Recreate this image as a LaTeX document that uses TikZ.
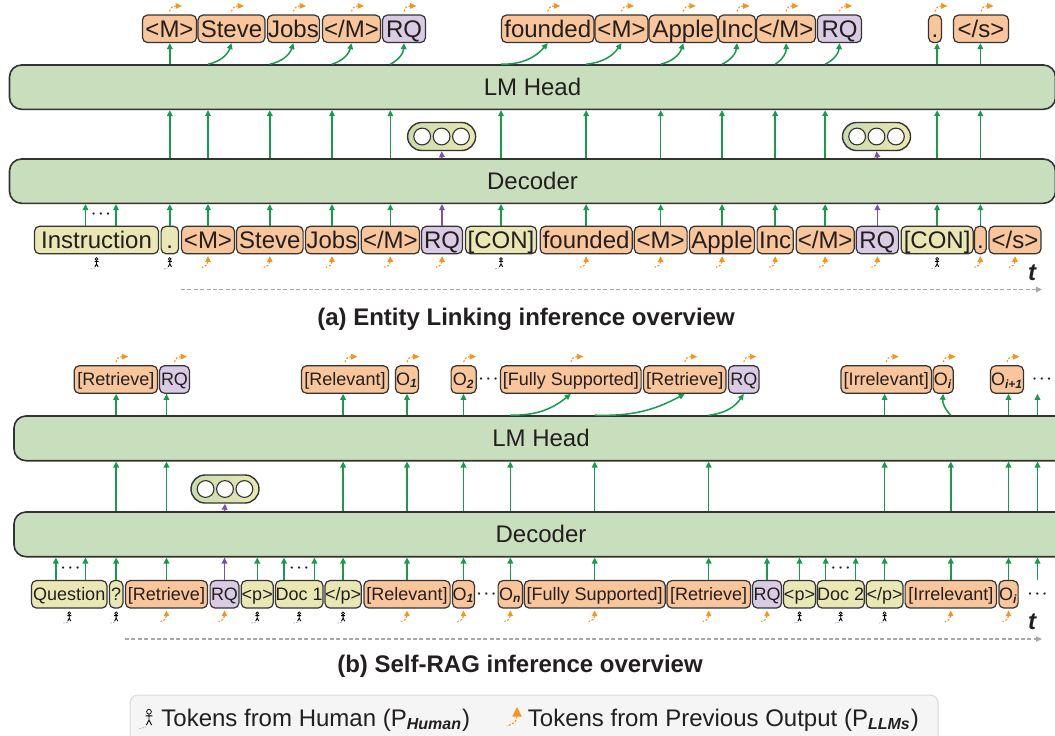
\documentclass[tikz,border=0pt]{standalone}
\usepackage{fontspec}
\setmainfont{Liberation Sans}
\usetikzlibrary{arrows.meta}

\definecolor{tokorange}{HTML}{F9C59A}
\definecolor{tokpurple}{HTML}{D9CBE4}
\definecolor{tokyellow}{HTML}{E9E8B4}
\definecolor{blockgreen}{HTML}{C8DEBC}
\definecolor{edgegray}{HTML}{333333}
\definecolor{arrowgreen}{HTML}{169B4F}
\definecolor{arrowpurple}{HTML}{7B52AB}
\definecolor{iconorange}{HTML}{F7941D}
\definecolor{axisgray}{HTML}{A8A8A8}
\definecolor{textdark}{HTML}{231F20}
\definecolor{memleft}{HTML}{C9DCAE}
\definecolor{memright}{HTML}{EBE8B0}

\tikzset{
  >={Triangle[length=3pt,width=2.8pt]},
  tok/.style={draw=edgegray, line width=0.6pt, rounded corners=2.5pt, inner sep=0pt,
    minimum height=13.75pt, text=textdark},
  tokA/.style={tok, font=\fontsize{12}{12}\selectfont, text height=10pt, text depth=1.4pt},
  tokB/.style={tok, font=\fontsize{9}{9}\selectfont, text height=7.4pt, text depth=1pt},
  fromllm/.style={fill=tokorange},
  fromhuman/.style={fill=tokyellow},
  retq/.style={fill=tokpurple},
  block/.style={draw=edgegray, line width=0.8pt, rounded corners=6pt, fill=blockgreen,
    font=\fontsize{12}{12}\selectfont, text=textdark},
  memory/.style={draw=edgegray, line width=0.7pt, rounded corners=7pt, minimum width=34pt,
    minimum height=14pt, left color=memleft, right color=memright},
  memcell/.style={circle, draw=edgegray, line width=0.55pt, fill=white, minimum size=8.4pt, inner sep=0pt},
  garrow/.style={->, arrowgreen, line width=0.75pt},
  parrow/.style={->, arrowpurple, line width=0.75pt},
  taxis/.style={->, axisgray, line width=0.6pt, dash pattern=on 2pt off 1.2pt},
  dotsA/.style={inner sep=0pt, text=textdark, font=\fontsize{11}{11}\selectfont},
  tlabel/.style={inner sep=0pt, text=textdark, font=\fontsize{12}{12}\bfseries\itshape\selectfont},
  caption/.style={inner sep=0pt, text=textdark, font=\fontsize{12}{12}\bfseries\selectfont},
  legendbox/.style={draw=gray!30, fill=gray!8, rounded corners=4pt, line width=0.5pt},
  legtext/.style={inner sep=0pt, text=textdark, font=\fontsize{12}{12}\selectfont},
  outmark/.pic={
    \draw[iconorange, line width=0.55pt, dash pattern=on 1pt off 0.8pt] (0,0) .. controls (1,-4) and (3,-5.5) .. (6,-5.5);
    \fill[iconorange] (6,-8.5) -- (12.5,-5.5) -- (6,-2.5) -- cycle;
  },
  inmark/.pic={
    \fill[iconorange] (-2.8,5) -- (0,-0.5) -- (2.8,5) -- cycle;
    \draw[iconorange, line width=0.55pt, dash pattern=on 1pt off 0.8pt] (0,5) .. controls (0,8) and (-3,10) .. (-6,10.5);
  },
  humanmark/.pic={
    \draw[black, line width=0.35pt] (0,1.6) circle[radius=1.4];
    \draw[black, line width=0.45pt] (-2,4) -- (2,4) (0,3) -- (0,6.5) -- (-1.6,9.5) (0,6.5) -- (1.6,9.5);
    \draw[gray!70, line width=0.35pt, dash pattern=on 0.8pt off 0.6pt] (-1.5,10.5) .. controls (-3,11) .. (-6,11.5);
  },
}

\begin{document}
\begin{tikzpicture}[x=0.5pt,y=-0.5pt]
\useasboundingbox (0,0) rectangle (1055,735);

%%%% (a) entity linking
%% blocks
\node[block, minimum width=523pt, minimum height=22.15pt] (aLM) at (532.5,87.15) {LM Head};
\node[block, minimum width=523pt, minimum height=22.15pt] (aDec) at (532.5,181.15) {Decoder};
\node[memory] (aBub1) at (441.6,136.5) {};
	\node[memcell] (aBub1a) at ([xshift=-9.7pt]aBub1.center) {};
	\node[memcell] (aBub1b) at (aBub1.center) {};
	\node[memcell] (aBub1c) at ([xshift=9.7pt]aBub1.center) {};
\node[memory] (aBub2) at (876.5,136.5) {};
	\node[memcell] (aBub2a) at ([xshift=-9.7pt]aBub2.center) {};
	\node[memcell] (aBub2b) at (aBub2.center) {};
	\node[memcell] (aBub2c) at ([xshift=9.7pt]aBub2.center) {};

%% output tokens
\node[tokA, fromllm, minimum width=27pt] (aT1) at (169.5,28.8) {<M>};
\node[tokA, fromllm, minimum width=33.5pt] (aT2) at (231.5,28.8) {Steve};
\node[tokA, fromllm, minimum width=26pt] (aT3) at (293.5,28.8) {Jobs};
\node[tokA, fromllm, minimum width=29pt] (aT4) at (351.5,28.8) {</M>};
\node[tokA, retq, minimum width=21.5pt] (aT5) at (404,28.8) {RQ};
\node[tokA, fromllm, minimum width=46.25pt] (aT6) at (547.75,28.8) {founded};
\node[tokA, fromllm, minimum width=26.5pt] (aT7) at (621.5,28.8) {<M>};
\node[tokA, fromllm, minimum width=34.25pt] (aT8) at (683.25,28.8) {Apple};
\node[tokA, fromllm, minimum width=18.5pt] (aT9) at (737,28.8) {Inc};
\node[tokA, fromllm, minimum width=29.5pt] (aT10) at (786,28.8) {</M>};
\node[tokA, retq, minimum width=22pt] (aT11) at (839.5,28.8) {RQ};
\node[tokA, fromllm, minimum width=6.5pt] (aT12) at (935,28.8) {.};
\node[tokA, fromllm, minimum width=27.5pt] (aT13) at (981,28.8) {</s>};

%% input tokens
\node[tokA, fromhuman, minimum width=62pt] (aI1) at (96.5,240) {Instruction};
\node[tokA, fromhuman, minimum width=8.7pt] (aI2) at (169.8,240) {.};
\node[tokA, fromllm, minimum width=26.5pt] (aI3) at (208,240) {<M>};
\node[tokA, fromllm, minimum width=33.3pt] (aI4) at (269.8,240) {Steve};
\node[tokA, fromllm, minimum width=26.5pt] (aI5) at (332,240) {Jobs};
\node[tokA, fromllm, minimum width=29.15pt] (aI6) at (390.35,240) {</M>};
\node[tokA, retq, minimum width=20.5pt] (aI7) at (442,240) {RQ};
\node[tokA, fromhuman, minimum width=35.5pt] (aI8) at (501,240) {[CON]};
\node[tokA, fromllm, minimum width=46pt] (aI9) at (586.15,240) {founded};
\node[tokA, fromllm, minimum width=26.4pt] (aI10) at (660.7,240) {<M>};
\node[tokA, fromllm, minimum width=32.5pt] (aI11) at (722,240) {Apple};
\node[tokA, fromllm, minimum width=18.1pt] (aI12) at (775.2,240) {Inc};
\node[tokA, fromllm, minimum width=29pt] (aI13) at (825.15,240) {</M>};
\node[tokA, retq, minimum width=21.1pt] (aI14) at (877.4,240) {RQ};
\node[tokA, fromhuman, minimum width=36pt] (aI15) at (937.15,240) {[CON]};
\node[tokA, fromllm, minimum width=5.9pt] (aI16) at (980.35,240) {.};
\node[tokA, fromllm, minimum width=26pt] (aI17) at (1015,240) {</s>};
\node[dotsA] (aDots) at (101,215) {$\cdot\!\cdot\!\cdot$};

%% input -> decoder
\draw[garrow] ([xshift=-5.5pt]aI1.north) -- ([xshift=-5.5pt]aI1.north |- aDec.south);
\draw[garrow] ([xshift=9.75pt]aI1.north) -- ([xshift=9.75pt]aI1.north |- aDec.south);
\draw[garrow] (aI2.north) -- (aI2.north |- aDec.south);
\draw[garrow] (aI3.north) -- (aI3.north |- aDec.south);
\draw[garrow] (aI4.north) -- (aI4.north |- aDec.south);
\draw[garrow] (aI5.north) -- (aI5.north |- aDec.south);
\draw[garrow] (aI6.north) -- (aI6.north |- aDec.south);
\draw[parrow] (aI7.north) -- (aI7.north |- aDec.south);
\draw[garrow] (aI8.north) -- (aI8.north |- aDec.south);
\draw[garrow] (aI9.north) -- (aI9.north |- aDec.south);
\draw[garrow] (aI10.north) -- (aI10.north |- aDec.south);
\draw[garrow] (aI11.north) -- (aI11.north |- aDec.south);
\draw[garrow] (aI12.north) -- (aI12.north |- aDec.south);
\draw[garrow] (aI13.north) -- (aI13.north |- aDec.south);
\draw[parrow] (aI14.north) -- (aI14.north |- aDec.south);
\draw[garrow] (aI15.north) -- (aI15.north |- aDec.south);
\draw[garrow] (aI16.north) -- (aI16.north |- aDec.south);

%% decoder -> lm head
\draw[garrow] (aI2 |- aDec.north) -- (aI2 |- aLM.south);
\draw[garrow] (aI3 |- aDec.north) -- (aI3 |- aLM.south);
\draw[garrow] (aI4 |- aDec.north) -- (aI4 |- aLM.south);
\draw[garrow] (aI5 |- aDec.north) -- (aI5 |- aLM.south);
\draw[garrow] (aI6 |- aDec.north) -- (aI6 |- aLM.south);
\draw[parrow] (aI7 |- aDec.north) -- (aBub1.south);
\draw[garrow] (aI8 |- aDec.north) -- (aI8 |- aLM.south);
\draw[garrow] (aI9 |- aDec.north) -- (aI9 |- aLM.south);
\draw[garrow] (aI10 |- aDec.north) -- (aI10 |- aLM.south);
\draw[garrow] (aI11 |- aDec.north) -- (aI11 |- aLM.south);
\draw[garrow] (aI12 |- aDec.north) -- (aI12 |- aLM.south);
\draw[garrow] (aI13 |- aDec.north) -- (aI13 |- aLM.south);
\draw[parrow] (aI14 |- aDec.north) -- (aBub2.south);
\draw[garrow] (aI15 |- aDec.north) -- (aI15 |- aLM.south);
\draw[garrow] (aI16 |- aDec.north) -- (aI16 |- aLM.south);

%% lm head -> next token
\draw[garrow] (aI2 |- aLM.north) -- (aI2 |- aT1.south);
\draw[garrow] (aI3 |- aLM.north) to[bend right=30] (aT2.south);
\draw[garrow] (aI4 |- aLM.north) to[bend right=30] (aT3.south);
\draw[garrow] (aI5 |- aLM.north) to[bend right=30] (aT4.south);
\draw[garrow] (aI6 |- aLM.north) to[bend right=30] (aT5.south);
\draw[garrow] (aI8 |- aLM.north) to[bend right=25] (aT6.south);
\draw[garrow] (aI9 |- aLM.north) to[bend right=25] (aT7.south);
\draw[garrow] (aI10 |- aLM.north) to[bend right=30] (aT8.south);
\draw[garrow] (aI11 |- aLM.north) to[bend right=30] (aT9.south);
\draw[garrow] (aI12 |- aLM.north) to[bend right=30] (aT10.south);
\draw[garrow] (aI13 |- aLM.north) to[bend right=30] (aT11.south);
\draw[garrow] (aI15 |- aLM.north) -- (aI15 |- aT12.south);
\draw[garrow] (aI16 |- aLM.north) -- (aI16 |- aT13.south);

%% source marks
\pic at ([yshift=1.5pt]aT1.north) {outmark};
\pic at ([yshift=1.5pt]aT2.north) {outmark};
\pic at ([yshift=1.5pt]aT3.north) {outmark};
\pic at ([yshift=1.5pt]aT4.north) {outmark};
\pic at ([yshift=1.5pt]aT5.north) {outmark};
\pic at ([yshift=1.5pt]aT6.north) {outmark};
\pic at ([yshift=1.5pt]aT7.north) {outmark};
\pic at ([yshift=1.5pt]aT8.north) {outmark};
\pic at ([yshift=1.5pt]aT9.north) {outmark};
\pic at ([yshift=1.5pt]aT10.north) {outmark};
\pic at ([yshift=1.5pt]aT11.north) {outmark};
\pic at ([yshift=1.5pt]aT12.north) {outmark};
\pic at ([yshift=1.5pt]aT13.north) {outmark};
\pic at ([yshift=-1.5pt]aI1.south) {humanmark};
\pic at ([yshift=-1.5pt]aI2.south) {humanmark};
\pic at ([yshift=-1.5pt]aI8.south) {humanmark};
\pic at ([yshift=-1.5pt]aI15.south) {humanmark};
\pic at ([yshift=-1.2pt]aI3.south) {inmark};
\pic at ([yshift=-1.2pt]aI4.south) {inmark};
\pic at ([yshift=-1.2pt]aI5.south) {inmark};
\pic at ([yshift=-1.2pt]aI6.south) {inmark};
\pic at ([yshift=-1.2pt]aI7.south) {inmark};
\pic at ([yshift=-1.2pt]aI9.south) {inmark};
\pic at ([yshift=-1.2pt]aI10.south) {inmark};
\pic at ([yshift=-1.2pt]aI11.south) {inmark};
\pic at ([yshift=-1.2pt]aI12.south) {inmark};
\pic at ([yshift=-1.2pt]aI13.south) {inmark};
\pic at ([yshift=-1.2pt]aI14.south) {inmark};
\pic at ([yshift=-1.2pt]aI16.south) {inmark};
\pic at ([yshift=-1.2pt]aI17.south) {inmark};

%% time axis and caption
\coordinate (aAxS) at (181,289.5);
\coordinate (aAxE) at (1042,289.5);
\draw[taxis] (aAxS) -- (aAxE);
\node[tlabel] (aTime) at (1032,273) {t};
\node[caption] (aCap) at (526,319) {(a) Entity Linking inference overview};

%%%% (b) self-rag
%% blocks
\node[block, minimum width=527pt, minimum height=22.35pt] (bLM) at (541,438.35) {LM Head};
\node[block, minimum width=527pt, minimum height=22.35pt] (bDec) at (541,534.35) {Decoder};
\node[memory] (bBub) at (225,489) {};
	\node[memcell] (bBuba) at ([xshift=-9.7pt]bBub.center) {};
	\node[memcell] (bBubb) at (bBub.center) {};
	\node[memcell] (bBubc) at ([xshift=9.7pt]bBub.center) {};

%% output tokens
\node[tokB, fromllm, minimum width=41.65pt] (bT1) at (115.85,379.5) {[Retrieve]};
\node[tokB, retq, minimum width=15pt] (bT2) at (174.5,379.5) {RQ};
\node[tokB, fromllm, minimum width=43.5pt] (bT3) at (345,379.5) {[Relevant]};
\node[tokB, fromllm, minimum width=11.5pt] (bT4) at (407,379.5) {O\textsubscript{\textbf{\textit{1}}}};
\node[tokB, fromllm, minimum width=12.55pt] (bT5) at (463.65,379.5) {O\textsubscript{\textbf{\textit{2}}}};
\node[dotsA] (bTDots1) at (488.5,379.5) {$\cdot\!\cdot\!\cdot$};
\node[tokB, fromllm, minimum width=70.3pt] (bT6) at (570.8,379.5) {[Fully Supported]};
\node[tokB, fromllm, minimum width=41.25pt] (bT7) at (684.75,379.5) {[Retrieve]};
\node[tokB, retq, minimum width=15.25pt] (bT8) at (743.75,379.5) {RQ};
\node[tokB, fromllm, minimum width=45.25pt] (bT9) at (886.25,379.5) {[Irrelevant]};
\node[tokB, fromllm, minimum width=10.1pt] (bT10) at (943.2,379.5) {O\textsubscript{\textbf{\textit{i}}}};
\node[tokB, fromllm, minimum width=16.5pt] (bT11) at (1007,379.5) {O\textsubscript{\textbf{\textit{i+1}}}};
\node[dotsA] (bTDots2) at (1042,379.5) {$\cdot\!\cdot\!\cdot$};

%% input tokens
\node[tokB, fromhuman, minimum width=37.75pt] (bI1) at (69.25,594.3) {Question};
\node[tokB, fromhuman, minimum width=6.75pt] (bI2) at (116.15,594.3) {?};
\node[tokB, fromllm, minimum width=41pt] (bI3) at (166.5,594.3) {[Retrieve]};
\node[tokB, retq, minimum width=14.4pt] (bI4) at (224.5,594.3) {RQ};
\node[tokB, fromhuman, minimum width=16pt] (bI5) at (257.25,594.3) {<p>};
\node[tokB, fromhuman, minimum width=23.8pt] (bI6) at (299.2,594.3) {Doc 1};
\node[tokB, fromhuman, minimum width=18.1pt] (bI7) at (343.1,594.3) {</p>};
\node[tokB, fromllm, minimum width=43.1pt] (bI8) at (407,594.3) {[Relevant]};
\node[tokB, fromllm, minimum width=11pt] (bI9) at (463.5,594.3) {O\textsubscript{\textbf{\textit{1}}}};
\node[dotsA] (bDots0) at (486.5,594.3) {$\cdot\!\cdot\!\cdot$};
\node[tokB, fromllm, minimum width=12.2pt] (bI10) at (510.3,594.3) {O\textsubscript{\textbf{\textit{n}}}};
\node[tokB, fromllm, minimum width=70.5pt] (bI11) at (594.7,594.3) {[Fully Supported]};
\node[tokB, fromllm, minimum width=41.8pt] (bI12) at (708.7,594.3) {[Retrieve]};
\node[tokB, retq, minimum width=14.5pt] (bI13) at (767,594.3) {RQ};
\node[tokB, fromhuman, minimum width=16pt] (bI14) at (799.5,594.3) {<p>};
\node[tokB, fromhuman, minimum width=23.4pt] (bI15) at (840.7,594.3) {Doc 2};
\node[tokB, fromhuman, minimum width=18.4pt] (bI16) at (884.6,594.3) {</p>};
\node[tokB, fromllm, minimum width=45.7pt] (bI17) at (950.8,594.3) {[Irrelevant]};
\node[tokB, fromllm, minimum width=9.6pt] (bI18) at (1008.5,594.3) {O\textsubscript{\textbf{\textit{i}}}};
\node[dotsA] (bDotsE) at (1037.5,594.3) {$\cdot\!\cdot\!\cdot$};
\node[dotsA] (bDots1) at (70.5,569) {$\cdot\!\cdot\!\cdot$};
\node[dotsA] (bDots2) at (299.2,569) {$\cdot\!\cdot\!\cdot$};
\node[dotsA] (bDots3) at (840.7,569) {$\cdot\!\cdot\!\cdot$};

%% input -> decoder
\draw[garrow] ([xshift=-6.7pt]bI1.north) -- ([xshift=-6.7pt]bI1.north |- bDec.south);
\draw[garrow] ([xshift=8.1pt]bI1.north) -- ([xshift=8.1pt]bI1.north |- bDec.south);
\draw[garrow] (bI2.north) -- (bI2.north |- bDec.south);
\draw[garrow] (bI3.north) -- (bI3.north |- bDec.south);
\draw[parrow] (bI4.north) -- (bI4.north |- bDec.south);
\draw[garrow] (bI5.north) -- (bI5.north |- bDec.south);
\draw[garrow] ([xshift=-7.6pt]bI6.north) -- ([xshift=-7.6pt]bI6.north |- bDec.south);
\draw[garrow] ([xshift=7.6pt]bI6.north) -- ([xshift=7.6pt]bI6.north |- bDec.south);
\draw[garrow] (bI7.north) -- (bI7.north |- bDec.south);
\draw[garrow] (bI8.north) -- (bI8.north |- bDec.south);
\draw[garrow] (bI9.north) -- (bI9.north |- bDec.south);
\draw[garrow] (bI10.north) -- (bI10.north |- bDec.south);
\draw[garrow] (bI11.north) -- (bI11.north |- bDec.south);
\draw[garrow] (bI12.north) -- (bI12.north |- bDec.south);
\draw[garrow] (bI13.north) -- (bI13.north |- bDec.south);
\draw[garrow] (bI14.north) -- (bI14.north |- bDec.south);
\draw[garrow] ([xshift=-7.5pt]bI15.north) -- ([xshift=-7.5pt]bI15.north |- bDec.south);
\draw[garrow] ([xshift=7.5pt]bI15.north) -- ([xshift=7.5pt]bI15.north |- bDec.south);
\draw[garrow] (bI16.north) -- (bI16.north |- bDec.south);
\draw[garrow] (bI17.north) -- (bI17.north |- bDec.south);
\draw[garrow] (bI18.north) -- (bI18.north |- bDec.south);
\draw[garrow] (bDotsE |- bI18.north) -- (bDotsE |- bDec.south);

%% decoder -> lm head
\draw[garrow] (bI2 |- bDec.north) -- (bI2 |- bLM.south);
\draw[garrow] (bI3 |- bDec.north) -- (bI3 |- bLM.south);
\draw[parrow] (bI4 |- bDec.north) -- (bBub.south);
\draw[garrow] (bI7 |- bDec.north) -- (bI7 |- bLM.south);
\draw[garrow] (bI8 |- bDec.north) -- (bI8 |- bLM.south);
\draw[garrow] (bI9 |- bDec.north) -- (bI9 |- bLM.south);
\draw[garrow] (bI10 |- bDec.north) -- (bI10 |- bLM.south);
\draw[garrow] (bI11 |- bDec.north) -- (bI11 |- bLM.south);
\draw[garrow] (bI12 |- bDec.north) -- (bI12 |- bLM.south);
\draw[garrow] (bI16 |- bDec.north) -- (bI16 |- bLM.south);
\draw[garrow] (bI17 |- bDec.north) -- (bI17 |- bLM.south);
\draw[garrow] (bI18 |- bDec.north) -- (bI18 |- bLM.south);
\draw[garrow] (bDotsE |- bDec.north) -- (bDotsE |- bLM.south);

%% lm head -> next token
\draw[garrow] (bI2 |- bLM.north) -- (bI2 |- bT1.south);
\draw[garrow] (bI3 |- bLM.north) -- (bI3 |- bT2.south);
\draw[garrow] (bI7 |- bLM.north) -- (bI7 |- bT3.south);
\draw[garrow] (bI8 |- bLM.north) -- (bI8 |- bT4.south);
\draw[garrow] (bI9 |- bLM.north) -- (bI9 |- bT5.south);
\draw[garrow] (bI10 |- bLM.north) to[bend right=20] (bT6.south);
\draw[garrow] (bI11 |- bLM.north) to[bend right=15] (bT7.south);
\draw[garrow] (bI12 |- bLM.north) to[bend right=25] (bT8.south);
\draw[garrow] (bI16 |- bLM.north) -- (bI16 |- bT9.south);
\draw[garrow] (bI17 |- bLM.north) to[bend left=25] (bT10.south);
\draw[garrow] (bI18 |- bLM.north) -- (bI18 |- bT11.south);
\draw[garrow] (bDotsE |- bLM.north) -- (bDotsE |- bT11.south);

%% source marks
\pic at ([yshift=1.5pt]bT1.north) {outmark};
\pic at ([yshift=1.5pt]bT2.north) {outmark};
\pic at ([yshift=1.5pt]bT3.north) {outmark};
\pic at ([yshift=1.5pt]bT4.north) {outmark};
\pic at ([yshift=1.5pt]bT5.north) {outmark};
\pic at ([yshift=1.5pt]bT6.north) {outmark};
\pic at ([yshift=1.5pt]bT7.north) {outmark};
\pic at ([yshift=1.5pt]bT8.north) {outmark};
\pic at ([yshift=1.5pt]bT9.north) {outmark};
\pic at ([yshift=1.5pt]bT10.north) {outmark};
\pic at ([yshift=1.5pt]bT11.north) {outmark};
\pic at ([yshift=-1.5pt]bI1.south) {humanmark};
\pic at ([yshift=-1.5pt]bI2.south) {humanmark};
\pic at ([yshift=-1.5pt]bI5.south) {humanmark};
\pic at ([yshift=-1.5pt]bI6.south) {humanmark};
\pic at ([yshift=-1.5pt]bI7.south) {humanmark};
\pic at ([yshift=-1.5pt]bI14.south) {humanmark};
\pic at ([yshift=-1.5pt]bI15.south) {humanmark};
\pic at ([yshift=-1.5pt]bI16.south) {humanmark};
\pic at ([yshift=-1.2pt]bI3.south) {inmark};
\pic at ([yshift=-1.2pt]bI4.south) {inmark};
\pic at ([yshift=-1.2pt]bI8.south) {inmark};
\pic at ([yshift=-1.2pt]bI9.south) {inmark};
\pic at ([yshift=-1.2pt]bI10.south) {inmark};
\pic at ([yshift=-1.2pt]bI11.south) {inmark};
\pic at ([yshift=-1.2pt]bI12.south) {inmark};
\pic at ([yshift=-1.2pt]bI13.south) {inmark};
\pic at ([yshift=-1.2pt]bI17.south) {inmark};
\pic at ([yshift=-1.2pt]bI18.south) {inmark};

%% time axis and caption
\coordinate (bAxS) at (125,639);
\coordinate (bAxE) at (1042,639);
\draw[taxis] (bAxS) -- (bAxE);
\node[tlabel] (bTime) at (1032,622) {t};
\node[caption] (bCap) at (520,666) {(b) Self-RAG inference overview};

%%%% legend
\node[legendbox, minimum width=404pt, minimum height=25pt] (leg) at (534,720) {};
\pic[scale=1.7] at (149,709) {humanmark};
\node[legtext, anchor=base west] (legH) at (161,726) {Tokens from Human (P\textsubscript{\textbf{\textit{Human}}})};
\pic[scale=1.7] at (517,708) {inmark};
\node[legtext, anchor=base west] (legO) at (527.5,726) {Tokens from Previous Output (P\textsubscript{\textbf{\textit{LLMs}}})};
\end{tikzpicture}
\end{document}
